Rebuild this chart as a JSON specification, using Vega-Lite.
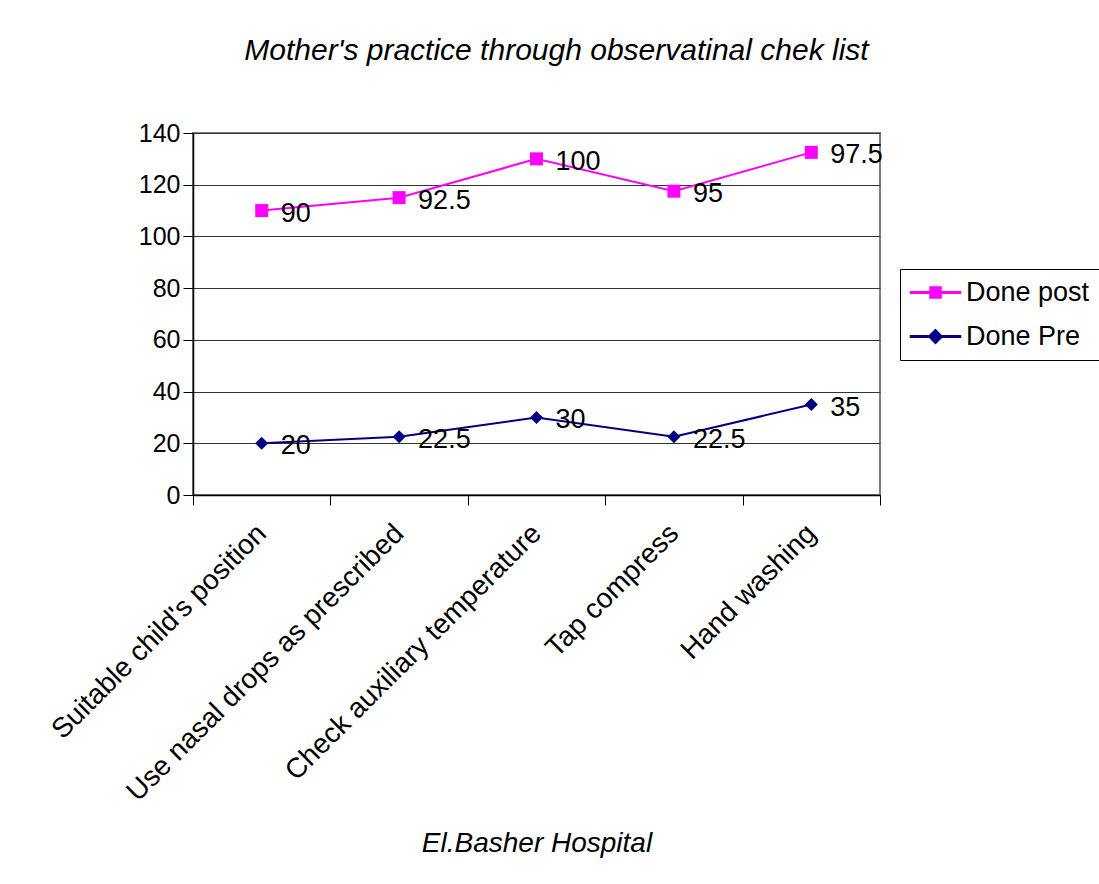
{
  "$schema": "https://vega.github.io/schema/vega-lite/v6.json",
  "width": 687,
  "height": 362,
  "autosize": {"type": "none"},
  "padding": {"left": 193, "top": 133, "right": 219, "bottom": 389},
  "background": "white",
  "title": {
    "text": "Mother's practice through observatinal chek list",
    "font": "Liberation Sans",
    "fontSize": 30,
    "fontStyle": "italic",
    "fontWeight": "normal",
    "color": "black",
    "anchor": "middle",
    "dx": 20,
    "offset": 55
  },
  "data": {
    "values": [
      {"item": "Suitable child's position", "series": "Done Pre", "value": 20},
      {"item": "Use nasal drops as prescribed", "series": "Done Pre", "value": 22.5},
      {"item": "Check auxiliary temperature", "series": "Done Pre", "value": 30},
      {"item": "Tap compress", "series": "Done Pre", "value": 22.5},
      {"item": "Hand washing", "series": "Done Pre", "value": 35},
      {"item": "Suitable child's position", "series": "Done post", "value": 90},
      {"item": "Use nasal drops as prescribed", "series": "Done post", "value": 92.5},
      {"item": "Check auxiliary temperature", "series": "Done post", "value": 100},
      {"item": "Tap compress", "series": "Done post", "value": 95},
      {"item": "Hand washing", "series": "Done post", "value": 97.5}
    ]
  },
  "transform": [
    {"stack": "value", "groupby": ["item"], "sort": [{"field": "series", "order": "ascending"}], "as": ["y0", "y1"]}
  ],
  "encoding": {
    "x": {
      "field": "item",
      "type": "nominal",
      "sort": ["Suitable child's position", "Use nasal drops as prescribed", "Check auxiliary temperature", "Tap compress", "Hand washing"],
      "scale": {"type": "band", "paddingInner": 0, "paddingOuter": 0},
      "axis": {
        "title": "El.Basher Hospital",
        "titleFont": "Liberation Sans",
        "titleFontSize": 28,
        "titleFontStyle": "italic",
        "titleFontWeight": "normal",
        "titleColor": "black",
        "titlePadding": 134,
        "labelAngle": -45,
        "labelAlign": "right",
        "labelBaseline": "middle",
        "labelFont": "Liberation Sans",
        "labelFontSize": 28,
        "labelColor": "black",
        "labelPadding": 24,
        "labelLimit": 500,
        "tickBand": "extent",
        "tickSize": 10,
        "tickColor": "black",
        "domainColor": "black",
        "domainWidth": 1.5,
        "grid": false
      }
    },
    "y": {
      "field": "y1",
      "type": "quantitative",
      "scale": {"domain": [0, 140]},
      "axis": {
        "title": null,
        "values": [0, 20, 40, 60, 80, 100, 120, 140],
        "labelFont": "Liberation Sans",
        "labelFontSize": 25,
        "labelColor": "black",
        "labelPadding": 3,
        "tickSize": 10,
        "tickColor": "black",
        "domainColor": "black",
        "domainWidth": 1.5,
        "grid": true,
        "gridColor": "#333333",
        "gridWidth": 1
      }
    },
    "color": {
      "field": "series",
      "type": "nominal",
      "scale": {"domain": ["Done post", "Done Pre"], "range": ["#FF00FF", "#000080"]},
      "legend": {
        "title": null,
        "orient": "none",
        "legendX": 707,
        "legendY": 136,
        "strokeColor": "black",
        "fillColor": "white",
        "padding": 10,
        "labelFont": "Liberation Sans",
        "labelFontSize": 27,
        "labelColor": "black",
        "symbolSize": 169,
        "symbolOpacity": 1,
        "rowPadding": 16,
        "symbolOffset": 12,
        "labelOffset": 17
      }
    }
  },
  "layer": [
    {"mark": {"type": "line", "strokeWidth": 2}},
    {
      "transform": [{"filter": "datum.series === 'Done post'"}],
      "mark": {"type": "point", "shape": "square", "filled": true, "opacity": 1, "size": 169}
    },
    {
      "transform": [{"filter": "datum.series === 'Done Pre'"}],
      "mark": {"type": "point", "shape": "diamond", "filled": true, "opacity": 1, "size": 169}
    },
    {
      "mark": {"type": "point", "filled": true, "opacity": 0, "size": 169},
      "encoding": {
        "shape": {
          "field": "series",
          "type": "nominal",
          "scale": {
            "domain": ["Done post", "Done Pre"],
            "range": [
              "M-3.85,-0.11H3.85V0.11H-3.85ZM-0.85,-0.85H0.85V0.85H-0.85Z",
              "M-3.85,-0.11H3.85V0.11H-3.85ZM0,-1.05L1.05,0L0,1.05L-1.05,0Z"
            ]
          },
          "legend": {
            "title": null,
            "orient": "none",
            "legendX": 707,
            "legendY": 136,
            "strokeColor": "black",
            "fillColor": "white",
            "padding": 10,
            "labelFont": "Liberation Sans",
            "labelFontSize": 27,
            "labelColor": "black",
            "symbolSize": 169,
            "symbolOpacity": 1,
            "rowPadding": 16,
            "symbolOffset": 12,
            "labelOffset": 17
          }
        }
      }
    },
    {
      "mark": {"type": "text", "align": "left", "baseline": "middle", "dx": 19, "dy": 3, "font": "Liberation Sans", "fontSize": 27},
      "encoding": {
        "text": {"field": "value", "type": "quantitative", "format": "~g"},
        "color": {"value": "black"}
      }
    }
  ],
  "config": {
    "view": {"stroke": "#808080", "strokeWidth": 2}
  }
}
